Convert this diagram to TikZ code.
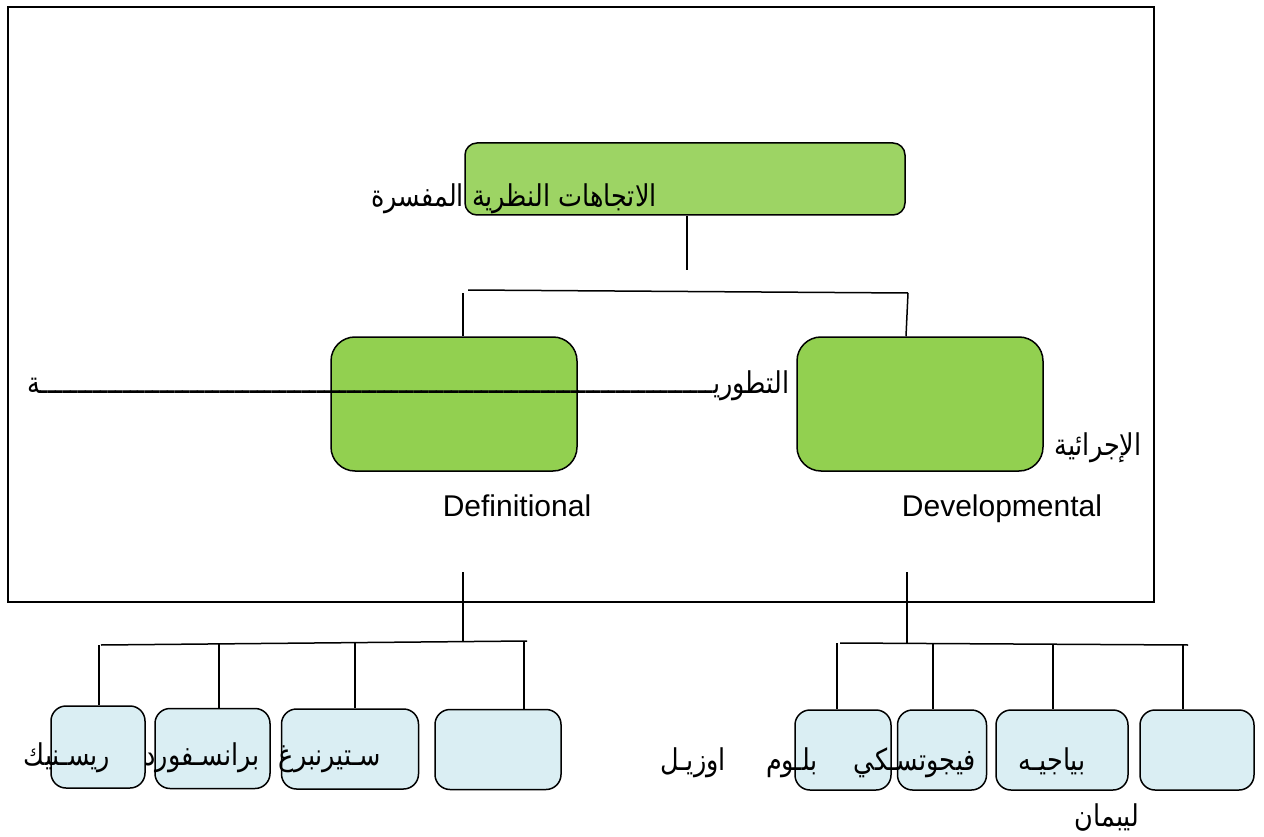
\documentclass[tikz,border=0pt]{standalone}
\usepackage{fontspec}
\setmainfont{Liberation Sans}
\newfontfamily\ar[Script=Arabic,FakeStretch=0.85]{DejaVu Sans}
\TeXXeTstate=1
\ExplSyntaxOn
\cs_new:Npn \mytatweel #1 {\prg_replicate:nn{#1}{ـ}}
\ExplSyntaxOff
\definecolor{topgreen}{HTML}{9DD464}
\definecolor{midgreen}{HTML}{92D050}
\definecolor{lightblue}{HTML}{DAEEF3}
\begin{document}
\begin{tikzpicture}[x=1pt,y=-1pt,
  line width=1.5pt,
  topbox/.style={draw=black,fill=topgreen,rounded corners=12pt,minimum width=440pt,minimum height=72pt,inner sep=0pt},
  midbox/.style={draw=black,fill=midgreen,rounded corners=24pt,minimum width=246pt,minimum height=134pt,inner sep=0pt},
  leafbox/.style={draw=black,fill=lightblue,rounded corners=15pt,minimum height=80pt,inner sep=0pt},
  artxt/.style={font=\fontsize{30}{35}\ar,inner sep=0pt,anchor=base},
  entxt/.style={font=\fontsize{30}{36}\selectfont,inner sep=0pt,anchor=base},
  conn/.style={line width=1.5pt}]
\useasboundingbox (0,0) rectangle (1264,837);
\draw[line width=1.6pt] (8,7) rectangle (1154,602);

% boxes
\node[topbox] (top) at (685,179) {};
\node[midbox] (midL) at (454,404) {};
\node[midbox] (midR) at (920,404) {};
\node[leafbox,minimum width=94pt,minimum height=82pt] (b1) at (98,747) {};
\node[leafbox,minimum width=115pt] (b2) at (212.5,748.5) {};
\node[leafbox,minimum width=137pt] (b3) at (350,749) {};
\node[leafbox,minimum width=126pt] (b4) at (498,749.5) {};
\node[leafbox,minimum width=96pt] (b5) at (843,750) {};
\node[leafbox,minimum width=89pt] (b6) at (942,750) {};
\node[leafbox,minimum width=132pt] (b7) at (1062,750) {};
\node[leafbox,minimum width=114pt] (b8) at (1197,750) {};

% connectors
\coordinate (topend) at (687,270);
\coordinate (hAl) at (468,290);
\coordinate (hAr) at (908,293);
\draw[conn] (top.south -| topend) -- (topend);
\draw[conn] (hAl) -- (hAr);
\draw[conn] (463,293) -- (midL.north -| 463,0);
\draw[conn] (hAr) -- (midR.north -| 906,0);

\coordinate (lA) at (463,572);
\coordinate (lB) at (463,641);
\coordinate (hBl) at (101,645);
\coordinate (hBr) at (527,641);
\draw[conn] (lA) -- (lB);
\draw[conn] (hBl) -- (hBr);
\draw[conn] (99,645) -- (b1.north -| 99,0);
\draw[conn] (219,644) -- (b2.north -| 219,0);
\draw[conn] (355,643) -- (b3.north -| 355,0);
\draw[conn] (524,642) -- (b4.north -| 524,0);

\coordinate (rA) at (907,572);
\coordinate (rB) at (907,643);
\coordinate (hCl) at (840,643);
\coordinate (hCr) at (1188,645);
\draw[conn] (rA) -- (rB);
\draw[conn] (hCl) -- (hCr);
\draw[conn] (837,643) -- (b5.north -| 837,0);
\draw[conn] (933,644) -- (b6.north -| 933,0);
\draw[conn] (1053,644) -- (b7.north -| 1053,0);
\draw[conn] (1183,645) -- (b8.north -| 1183,0);

% texts
\node[artxt] (t1) at (514,207) {\beginR الاتجاهات النظرية المفسرة\endR};
\node[artxt,anchor=base east] (t2) at (790,393) {\beginR التطوري\mytatweel{90}ة\endR};
\node[artxt] (t3) at (1098,455) {\beginR الإجرائية\endR};
\node[entxt] (t4) at (517,516) {Definitional};
\node[entxt] (t5) at (1002,516) {Developmental};
\node[artxt] (t6) at (67,765) {\beginR ريسـنيك\endR};
\node[artxt] (t7) at (202,765) {\beginR برانسـفورد\endR};
\node[artxt] (t8) at (330,765) {\beginR سـتيرنبرغ\endR};
\node[artxt] (t9) at (693,770) {\beginR اوزيـل\endR};
\node[artxt] (t10) at (792,770) {\beginR بلـوم\endR};
\node[artxt] (t11) at (915,770) {\beginR فيجوتسـكي\endR};
\node[artxt] (t12) at (1052,770) {\beginR بياجيـه\endR};
\node[artxt] (t13) at (1107,826) {\beginR ليبمان\endR};
\end{tikzpicture}
\end{document}
